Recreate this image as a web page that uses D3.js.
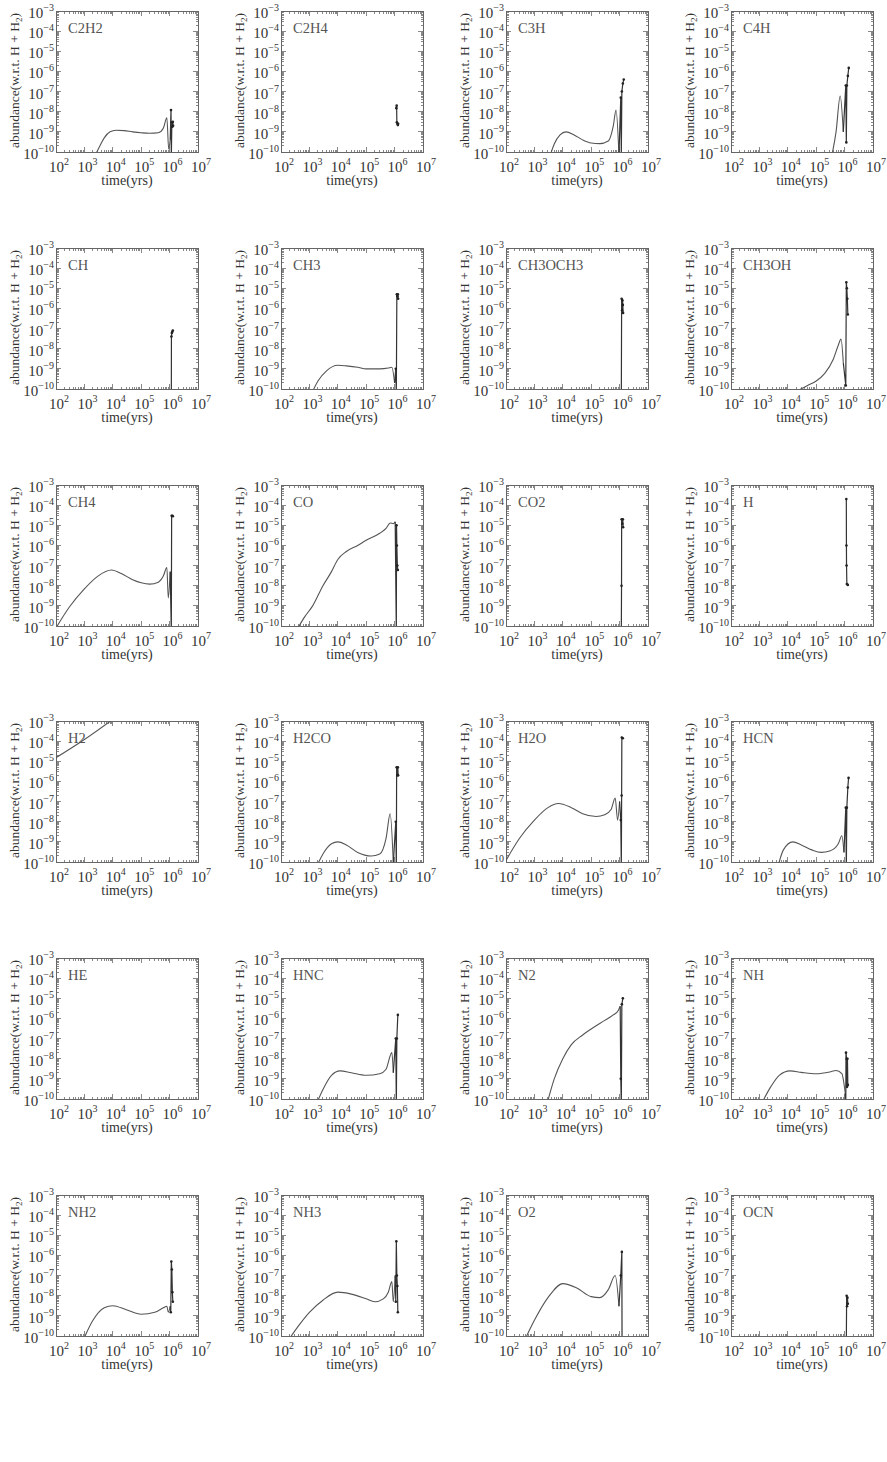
<!DOCTYPE html>
<html><head><meta charset="utf-8">
<script src="https://cdn.jsdelivr.net/npm/d3@7"></script>
<style>body{margin:0;background:#fff}svg{display:block}</style>
</head><body>
<script>
// ---- data ----
const speciesNames = ["C2H2","C2H4","C3H","C4H","CH","CH3","CH3OCH3","CH3OH","CH4","CO","CO2","H","H2","H2CO","H2O","HCN","HE","HNC","N2","NH","NH2","NH3","O2","OCN"];
const xTickExps = [2,3,4,5,6,7];
const yTickExps = [-3,-4,-5,-6,-7,-8,-9,-10];

const d_C2H2 = [[2.3e3,6e-11],[3.5e3,2e-10],[5e3,5e-10],[8e3,1e-9],[1.3e4,1.2e-9],[2.5e4,1.15e-9],[5e4,1e-9],[1e5,9e-10],[2e5,8.5e-10],[4e5,9e-10],[6e5,1.5e-9],[8e5,5e-9],[9.3e5,1.4e-10],[1.05e6,4e-10],[1.12e6,1.2e-8],[1.15e6,5e-11],[1.2e6,3e-9],[1.25e6,1.8e-9],[1.3e6,3.2e-9],[1.33e6,2e-9]];
const d_C2H4 = [[1.15e6,1.5e-8],[1.18e6,2e-8],[1.2e6,3e-9],[1.25e6,2.5e-9],[1.3e6,2.2e-9],[1.33e6,2.5e-9]];
const d_C3H = [[3.5e3,6e-11],[5e3,2.5e-10],[8e3,7e-10],[1.3e4,1e-9],[2.5e4,7e-10],[5e4,4e-10],[1e5,2.8e-10],[2e5,2.6e-10],[4e5,3.5e-10],[6e5,2e-9],[7.5e5,1.2e-8],[9.5e5,7e-11],[1.1e6,5e-8],[1.15e6,8e-11],[1.2e6,1e-7],[1.3e6,2.5e-7],[1.4e6,4e-7]];
const d_C4H = [[3.5e5,6e-11],[5e5,1e-9],[7e5,6e-8],[9e5,1e-9],[1.1e6,2e-7],[1.15e6,3e-10],[1.2e6,2e-7],[1.3e6,6e-7],[1.4e6,1.5e-6]];
const d_CH = [[1.15e6,5e-11],[1.16e6,4e-8],[1.2e6,6e-8],[1.25e6,7e-8],[1.3e6,8e-8]];
const d_CH3 = [[1.2e3,6e-11],[2e3,2.5e-10],[4e3,8e-10],[1e4,1.5e-9],[2e4,1.4e-9],[5e4,1.2e-9],[1e5,1e-9],[3e5,1e-9],[6e5,1.1e-9],[8e5,1.2e-9],[1e6,2e-10],[1.1e6,1e-9],[1.15e6,5e-11],[1.2e6,5e-6],[1.25e6,4e-6],[1.3e6,5e-6],[1.33e6,3e-6]];
const d_CH3OCH3 = [[1.15e6,5e-11],[1.18e6,3e-6],[1.22e6,8e-7],[1.26e6,2.5e-6],[1.3e6,1.5e-6],[1.33e6,6e-7]];
const d_CH3OH = [[2.5e4,9e-11],[5e4,1.5e-10],[1e5,2.5e-10],[2e5,6e-10],[4e5,3e-9],[6e5,1.5e-8],[7.5e5,3e-8],[9e5,2e-9],[1.1e6,1.5e-10],[1.15e6,2e-5],[1.2e6,1e-5],[1.25e6,3e-6],[1.3e6,5e-7]];
const d_CH4 = [[1e2,8e-11],[3e2,9e-10],[1e3,7e-9],[3e3,3e-8],[9e3,6e-8],[2e4,4e-8],[5e4,2e-8],[1e5,1.4e-8],[2e5,1.2e-8],[4e5,1.5e-8],[6e5,3e-8],[8e5,8e-8],[9e5,2.5e-9],[1.05e6,5e-8],[1.15e6,5e-11],[1.18e6,3e-5],[1.25e6,3e-5],[1.3e6,2.8e-5]];
const d_CO = [[3.5e2,6e-11],[7e2,3e-10],[1.3e3,1e-9],[3e3,1e-8],[6e3,5e-8],[1e4,2e-7],[2e4,5e-7],[5e4,1e-6],[1e5,1.8e-6],[3e5,4e-6],[5e5,7e-6],[7e5,1.3e-5],[9e5,1.2e-5],[1.05e6,1.5e-5],[1.15e6,5e-11],[1.17e6,1e-5],[1.2e6,1e-6],[1.25e6,1e-7],[1.3e6,6e-8]];
const d_CO2 = [[1.15e6,5e-11],[1.17e6,1e-8],[1.18e6,2e-5],[1.25e6,1.2e-5],[1.3e6,2e-5],[1.33e6,8e-6]];
const d_H = [[1.15e6,2e-4],[1.16e6,1e-6],[1.17e6,1e-7],[1.2e6,1.2e-8],[1.3e6,1.1e-8]];
const d_H2 = [[1e2,1.5e-5],[1e3,1.2e-4],[1e4,1.2e-3]];
const d_H2CO = [[1.8e3,6e-11],[3e3,2.5e-10],[6e3,8e-10],[1e4,1e-9],[2e4,7e-10],[5e4,3e-10],[1.5e5,2e-10],[3e5,2.5e-10],[5e5,1.5e-9],[7e5,2.5e-8],[9e5,9e-11],[1.1e6,1e-8],[1.15e6,5e-11],[1.18e6,5e-6],[1.25e6,2e-6],[1.3e6,5e-6],[1.33e6,2e-6]];
const d_H2O = [[1e2,1.2e-10],[3e2,1.5e-9],[1e3,1.2e-8],[3e3,5e-8],[7e3,8e-8],[2e4,5e-8],[5e4,2.5e-8],[1.5e5,1.8e-8],[3e5,2.2e-8],[5e5,4e-8],[7e5,1.5e-7],[8.5e5,1.2e-8],[1e6,1e-7],[1.1e6,1.2e-8],[1.15e6,5e-11],[1.18e6,2e-7],[1.2e6,1.5e-4],[1.3e6,1.4e-4]];
const d_HCN = [[4.5e3,6e-11],[7e3,4e-10],[1.5e4,1e-9],[3e4,7e-10],[7e4,4e-10],[1.5e5,3e-10],[3e5,3.5e-10],[6e5,8e-10],[8e5,2e-9],[9.5e5,3e-10],[1.1e6,5e-8],[1.15e6,5e-11],[1.2e6,5e-8],[1.3e6,5e-7],[1.38e6,1.5e-6]];
const d_HE = [];
const d_HNC = [[1.8e3,6e-11],[3e3,3e-10],[6e3,1.5e-9],[1.2e4,2.5e-9],[3e4,2e-9],[1e5,1.5e-9],[3e5,1.8e-9],[5e5,3e-9],[8e5,2e-8],[9e5,2e-9],[1.1e6,1e-7],[1.15e6,5e-11],[1.2e6,1e-7],[1.3e6,1.5e-6]];
const d_N2 = [[2.8e3,6e-11],[5e3,1e-9],[1e4,1e-8],[2e4,5e-8],[5e4,1.5e-7],[1e5,3e-7],[3e5,8e-7],[6e5,1.5e-6],[9e5,2.5e-6],[1.05e6,4e-6],[1.1e6,1e-9],[1.15e6,5e-11],[1.2e6,5e-6],[1.3e6,1e-5]];
const d_NH = [[1.2e3,6e-11],[2.5e3,4e-10],[5e3,1.5e-9],[1.2e4,2.5e-9],[3e4,2.1e-9],[1e5,1.8e-9],[3e5,2.2e-9],[5e5,2.6e-9],[8e5,1.8e-9],[1.05e6,2e-10],[1.1e6,5e-11],[1.12e6,2e-8],[1.18e6,1e-8],[1.22e6,4e-10],[1.26e6,1e-8],[1.3e6,5e-10]];
const d_NH2 = [[9e2,6e-11],[2e3,6e-10],[5e3,2.5e-9],[1e4,3.2e-9],[3e4,2e-9],[1e5,1.2e-9],[3e5,1.5e-9],[6e5,2.5e-9],[8e5,3e-9],[9e5,1.5e-9],[1.05e6,3e-9],[1.1e6,1.5e-9],[1.15e6,5e-7],[1.2e6,2e-7],[1.25e6,1.5e-8],[1.3e6,5e-9]];
const d_NH3 = [[1.8e2,6e-11],[4e2,3e-10],[1e3,1.5e-9],[3e3,6e-9],[1e4,1.5e-8],[3e4,1.2e-8],[1e5,7e-9],[2e5,5e-9],[4e5,7e-9],[6e5,1.5e-8],[8e5,5e-8],[9e5,5e-9],[1.05e6,1e-7],[1.1e6,5e-9],[1.15e6,5e-6],[1.2e6,1e-7],[1.25e6,3e-8],[1.3e6,1.5e-9]];
const d_O2 = [[4.5e2,6e-11],[1e3,6e-10],[3e3,8e-9],[1e4,4e-8],[3e4,2.5e-8],[1e5,9e-9],[2e5,8e-9],[4e5,2e-8],[7e5,1e-7],[9.5e5,3e-9],[1.1e6,1e-7],[1.2e6,1.5e-6],[1.22e6,5e-11]];
const d_OCN = [[1.15e6,5e-11],[1.18e6,1e-8],[1.22e6,3e-9],[1.26e6,8e-9],[1.3e6,4e-9]];

const dataBySpecies = {C2H2:d_C2H2,C2H4:d_C2H4,C3H:d_C3H,C4H:d_C4H,CH:d_CH,CH3:d_CH3,CH3OCH3:d_CH3OCH3,CH3OH:d_CH3OH,CH4:d_CH4,CO:d_CO,CO2:d_CO2,H:d_H,H2:d_H2,H2CO:d_H2CO,H2O:d_H2O,HCN:d_HCN,HE:d_HE,HNC:d_HNC,N2:d_N2,NH:d_NH,NH2:d_NH2,NH3:d_NH3,O2:d_O2,OCN:d_OCN};

// ---- layout ----
const W = 887, H = 1462;
const ncol = 4;
const boxW = 142, boxH = 141;
const colX0 = 56, colStep = 225;
const rowY0 = 11, rowStep = 236.8;
const font = "'Liberation Serif','Times New Roman',serif";
const splitT = 1.08e6; // smooth evolution before, jumps after

const svg = d3.select("body").append("svg").attr("width", W).attr("height", H);
svg.append("rect").attr("width", W).attr("height", H).attr("fill", "#fff");

const x = d3.scaleLog().domain([1e2, 1e7]).range([0, boxW]);
const y = d3.scaleLog().domain([1e-10, 1e-3]).range([boxH, 0]);

const majorX = xTickExps.map(e => Math.pow(10, e));
const minorX = [];
for (let e = 2; e < 7; e++) for (let m = 2; m <= 9; m++) minorX.push(m * Math.pow(10, e));
const majorY = yTickExps.map(e => Math.pow(10, e));
const minorY = [];
for (let e = -10; e < -3; e++) for (let m = 2; m <= 9; m++) minorY.push(m * Math.pow(10, e));

const smoothLine = d3.line().x(d => x(d[0])).y(d => y(d[1])).curve(d3.curveMonotoneX);
const jumpLine = d3.line().x(d => x(d[0])).y(d => y(d[1]));

speciesNames.forEach((name, i) => {
  const c = i % ncol, r = Math.floor(i / ncol);
  const g = svg.append("g").attr("transform", `translate(${colX0 + c * colStep},${Math.round(rowY0 + r * rowStep)})`);
  const clipId = "clip" + i;
  g.append("clipPath").attr("id", clipId).append("rect").attr("width", boxW).attr("height", boxH);

  // ticks (inside, all four sides)
  const tk = g.append("g").attr("stroke", "#888").attr("stroke-width", 1).attr("shape-rendering", "crispEdges");
  majorX.forEach(v => {
    tk.append("line").attr("x1", x(v)).attr("x2", x(v)).attr("y1", boxH).attr("y2", boxH - 5);
    tk.append("line").attr("x1", x(v)).attr("x2", x(v)).attr("y1", 0).attr("y2", 5);
  });
  minorX.forEach(v => {
    tk.append("line").attr("x1", x(v)).attr("x2", x(v)).attr("y1", boxH).attr("y2", boxH - 2.5);
    tk.append("line").attr("x1", x(v)).attr("x2", x(v)).attr("y1", 0).attr("y2", 2.5);
  });
  majorY.forEach(v => {
    tk.append("line").attr("y1", y(v)).attr("y2", y(v)).attr("x1", 0).attr("x2", 5);
    tk.append("line").attr("y1", y(v)).attr("y2", y(v)).attr("x1", boxW).attr("x2", boxW - 5);
  });
  minorY.forEach(v => {
    tk.append("line").attr("y1", y(v)).attr("y2", y(v)).attr("x1", 0).attr("x2", 2.5);
    tk.append("line").attr("y1", y(v)).attr("y2", y(v)).attr("x1", boxW).attr("x2", boxW - 2.5);
  });

  g.append("rect").attr("width", boxW).attr("height", boxH).attr("fill", "none")
    .attr("stroke", "#666").attr("stroke-width", 1).attr("shape-rendering", "crispEdges");

  // x tick labels
  xTickExps.forEach(e => {
    const t = g.append("text").attr("x", x(Math.pow(10, e)) + 3).attr("y", boxH + 20)
      .attr("text-anchor", "middle").attr("font-family", font).attr("font-size", 15).attr("fill", "#333");
    t.append("tspan").text("10");
    t.append("tspan").attr("dy", -7).attr("font-size", 10).text(e);
  });
  // y tick labels
  yTickExps.forEach(e => {
    const t = g.append("text").attr("x", -2).attr("y", y(Math.pow(10, e)) + 7)
      .attr("text-anchor", "end").attr("font-family", font).attr("font-size", 15).attr("fill", "#333");
    t.append("tspan").text("10");
    t.append("tspan").attr("dy", -7).attr("font-size", 10).text("\u2212" + Math.abs(e));
  });
  // axis labels
  g.append("text").attr("x", boxW / 2).attr("y", boxH + 33).attr("text-anchor", "middle")
    .attr("font-family", font).attr("font-size", 14).attr("fill", "#333").text("time(yrs)");
  const yl = g.append("text").attr("transform", `translate(-37,${boxH / 2 - 1}) rotate(-90)`)
    .attr("text-anchor", "middle").attr("font-family", font).attr("font-size", 13.5).attr("fill", "#333");
  yl.append("tspan").text("abundance(w.r.t. H + H");
  yl.append("tspan").attr("dy", 3).attr("font-size", 9).text("2");
  yl.append("tspan").attr("dy", -3).text(")");

  // species label
  g.append("text").attr("x", 12).attr("y", 22).attr("font-family", font).attr("font-size", 14.5)
    .attr("fill", "#555").text(name);

  // data
  const data = dataBySpecies[name];
  const dg = g.append("g").attr("clip-path", `url(#${clipId})`);
  if (data.length) {
    const smooth = data.filter(d => d[0] < splitT);
    const jumps = data.filter(d => d[0] >= splitT);
    if (smooth.length) {
      dg.append("path").attr("d", smoothLine(smooth)).attr("fill", "none").attr("stroke", "#555").attr("stroke-width", 1.1);
    }
    const tail = smooth.length ? [smooth[smooth.length - 1]].concat(jumps) : jumps;
    dg.append("path").attr("d", jumpLine(tail)).attr("fill", "none").attr("stroke", "#333").attr("stroke-width", 1.2);
    dg.selectAll("circle").data(jumps).join("circle")
      .attr("cx", d => x(d[0])).attr("cy", d => y(d[1])).attr("r", 1.3).attr("fill", "#222");
  }
});
</script>
</body></html>
